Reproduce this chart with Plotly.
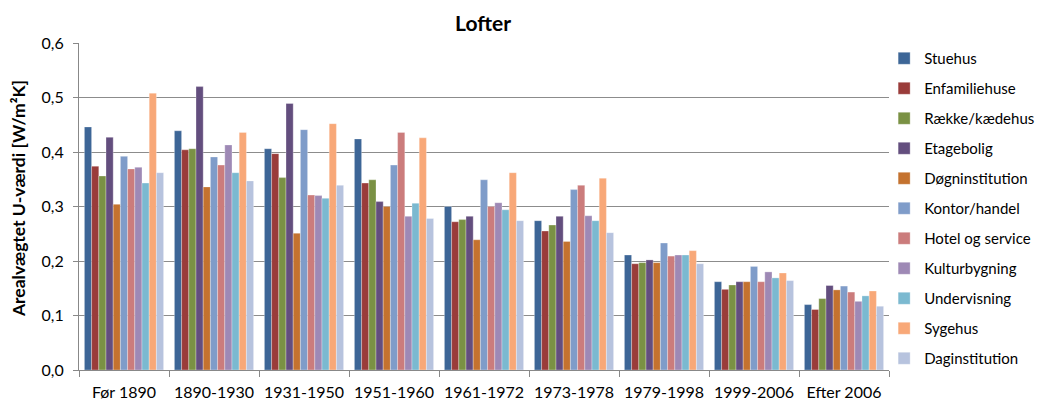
import plotly.graph_objects as go

periods = ["Før 1890", "1890-1930", "1931-1950", "1951-1960", "1961-1972",
           "1973-1978", "1979-1998", "1999-2006", "Efter 2006"]

stuehus = [0.446, 0.439, 0.406, 0.424, 0.300, 0.274, 0.211, 0.162, 0.120]
enfamiliehuse = [0.374, 0.404, 0.397, 0.343, 0.272, 0.255, 0.195, 0.148, 0.111]
raekke = [0.356, 0.406, 0.353, 0.349, 0.276, 0.266, 0.197, 0.156, 0.131]
etagebolig = [0.427, 0.520, 0.489, 0.309, 0.282, 0.282, 0.202, 0.162, 0.155]
doegn = [0.304, 0.336, 0.251, 0.300, 0.239, 0.236, 0.197, 0.162, 0.147]
kontor = [0.392, 0.391, 0.441, 0.376, 0.349, 0.331, 0.233, 0.190, 0.154]
hotel = [0.369, 0.376, 0.321, 0.436, 0.300, 0.339, 0.209, 0.162, 0.143]
kultur = [0.372, 0.413, 0.320, 0.282, 0.307, 0.283, 0.211, 0.180, 0.126]
undervisning = [0.343, 0.362, 0.315, 0.306, 0.294, 0.274, 0.211, 0.169, 0.136]
sygehus = [0.508, 0.436, 0.452, 0.426, 0.362, 0.352, 0.219, 0.178, 0.145]
daginstitution = [0.362, 0.347, 0.339, 0.278, 0.274, 0.252, 0.195, 0.164, 0.117]

series_names = ["Stuehus", "Enfamiliehuse", "Række/kædehus", "Etagebolig",
                "Døgninstitution", "Kontor/handel", "Hotel og service",
                "Kulturbygning", "Undervisning", "Sygehus", "Daginstitution"]
series_values = [stuehus, enfamiliehuse, raekke, etagebolig, doegn, kontor,
                 hotel, kultur, undervisning, sygehus, daginstitution]
colors = ["#3D6697", "#9A3C3A", "#7A9144", "#634E7E", "#C4722F", "#7F9CC9",
          "#CB7C7C", "#9E89B5", "#7BB9D0", "#F8A878", "#B7C3DE"]

y_ticks = [0, 0.1, 0.2, 0.3, 0.4, 0.5, 0.6]
y_tick_labels = ["0,0", "0,1", "0,2", "0,3", "0,4", "0,5", "0,6"]

FONT = "Lato, 'Open Sans', sans-serif"

fig = go.Figure()
for name, vals, col in zip(series_names, series_values, colors):
    fig.add_trace(go.Bar(
        x=periods, y=vals, name=name, legendgroup=name,
        marker=dict(color=col, line=dict(color="rgba(255,255,255,0.5)", width=0.6)),
    ))

fig.update_layout(
    width=1035, height=393,
    margin=dict(l=71, r=154, t=35, b=31, autoexpand=False),
    paper_bgcolor="white", plot_bgcolor="white",
    barmode="group", bargap=0.12, bargroupgap=0,
    font=dict(family=FONT, size=16, color="#000000"),
    title=dict(text="<b>Lofter</b>", x=0.459, xanchor="center", y=0.959, yanchor="middle",
               font=dict(family=FONT, size=21, color="#000000")),
    legend=dict(x=0.994, xanchor="left", y=1.003, yanchor="top",
                tracegroupgap=7.5, font=dict(family=FONT, size=15, color="#000000"),
                bgcolor="rgba(0,0,0,0)", itemwidth=30, maxheight=400),
    xaxis=dict(
        showline=True, linecolor="#888888", linewidth=1,
        ticks="outside", tickson="boundaries", ticklen=6, tickcolor="#888888",
        tickfont=dict(family=FONT, size=16), showgrid=False,
        ticklabelstandoff=8,
    ),
    yaxis=dict(
        range=[0, 0.6], tickvals=y_ticks, ticktext=y_tick_labels,
        showline=True, linecolor="#888888", linewidth=1,
        ticks="outside", ticklen=5, tickcolor="#888888",
        showgrid=True, gridcolor="#8C8C8C", gridwidth=1,
        zeroline=False,
        tickfont=dict(family=FONT, size=16),
        ticklabelstandoff=6,
    ),
    annotations=[dict(
        text="<b>Arealvægtet U-værdi [W/m²K]</b>", textangle=-90,
        xref="paper", yref="paper", x=-0.074, y=0.523,
        xanchor="center", yanchor="middle", showarrow=False,
        font=dict(family=FONT, size=17.5, color="#000000"),
    )],
)

fig.write_html("out.html")
